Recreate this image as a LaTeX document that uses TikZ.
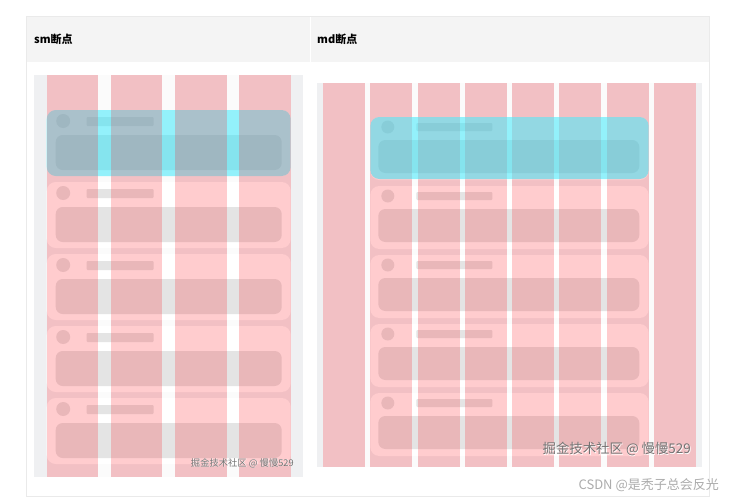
\documentclass[tikz,border=0pt]{standalone}
\usepackage{fontspec}
\setmainfont{Noto Sans CJK SC}
\definecolor{bordercol}{RGB}{234,234,234}
\definecolor{headbg}{RGB}{244,244,244}
\definecolor{marg}{RGB}{239,240,242}
\definecolor{gut}{RGB}{251,251,251}
\definecolor{cardgray}{RGB}{228,228,228}
\definecolor{redc}{RGB}{255,25,35}
\definecolor{cyanc}{RGB}{40,228,248}
\definecolor{wmark}{RGB}{115,115,115}
\definecolor{csdn}{RGB}{172,172,172}
\tikzset{
  redov/.style={fill=redc, fill opacity=0.22},
  cyanov/.style={fill=cyanc, fill opacity=0.5, rounded corners=9},
  headtext/.style={anchor=west, inner sep=0pt, font=\bfseries\fontsize{11}{13}\selectfont},
  wm/.style={anchor=east, inner sep=0pt, text=wmark},
  lcard/.pic={
    \fill[white, rounded corners=9] (0,0) rectangle (244,66);
    \fill[cardgray] (16.5,11) circle (7);
    \fill[cardgray, rounded corners=1] (40,7) rectangle (107,16);
    \fill[cardgray, rounded corners=7] (9,25) rectangle (235,60);
  },
  rcard/.pic={
    \fill[white, rounded corners=9] (0,0) rectangle (278.4,63);
    \fill[cardgray] (17.5,10) circle (6.5);
    \fill[cardgray, rounded corners=1] (46,6) rectangle (122,14);
    \fill[cardgray, rounded corners=7] (8,23) rectangle (269,56);
  }
}
\begin{document}
\begin{tikzpicture}[x=1pt,y=-1pt]
\useasboundingbox[fill=white] (0,0) rectangle (730,498);
% table
\fill[headbg] (27,17) rectangle (709,62);
\draw[bordercol, line width=1pt] (26.5,16.5) rectangle (709.5,496.5);
\fill[white] (309.5,17) rectangle (311,62);
\node[headtext] (hsm) at (34,39.5) {sm断点};
\node[headtext] (hmd) at (317,39.5) {md断点};

% ---------- left image (sm) ----------
\fill[marg] (34,75) rectangle (303,477);
\foreach \i in {0,1,2} {
  \fill[gut] ({46.7+51.4+64.2*\i},75) rectangle ({46.7+64.2*(\i+1)},477);
}
\foreach \k in {0,...,4} {
  \pic at (46.7,{110+72*\k}) {lcard};
}
\fill[cyanov] (46.7,110) rectangle (290.7,176);
\foreach \i in {0,...,3} {
  \fill[redov] ({46.7+64.2*\i},75) rectangle ({46.7+64.2*\i+51.4},477);
}
\node[wm, font=\fontsize{9.3}{10}\selectfont, text=white] at (294.6,463.6) {掘金技术社区 @ 慢慢529};
\node[wm, font=\fontsize{9.3}{10}\selectfont] (wml) at (294,463) {掘金技术社区 @ 慢慢529};

% ---------- right image (md) ----------
\fill[marg] (317,83) rectangle (702,467);
\foreach \i in {0,...,6} {
  \fill[gut] ({323+42+47.29*\i},83) rectangle ({323+47.29*(\i+1)},467);
}
\foreach \k in {0,...,4} {
  \pic at (370.3,{117+69*\k}) {rcard};
}
\foreach \i in {0,...,7} {
  \fill[redov] ({323+47.29*\i},83) rectangle ({323+47.29*\i+42},467);
}
\fill[cyanov] (370.3,117) rectangle (648.7,179);
\node[wm, font=\fontsize{13.4}{15}\selectfont, text=white] at (691.7,449.7) {掘金技术社区 @ 慢慢529};
\node[wm, font=\fontsize{13.4}{15}\selectfont] (wmr) at (691,449) {掘金技术社区 @ 慢慢529};

\node[anchor=east, inner sep=0pt, text=csdn, font=\fontsize{13}{15}\selectfont] (csdn) at (719,485) {CSDN @是秃子总会反光};
\end{tikzpicture}
\end{document}
